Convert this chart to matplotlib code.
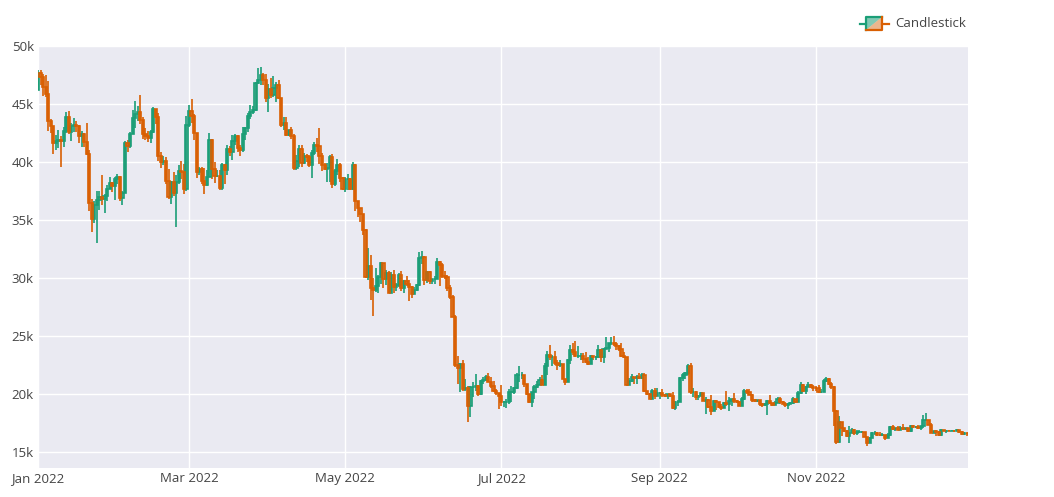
import numpy as np
import pandas as pd
import matplotlib
matplotlib.use("Agg")
import matplotlib.pyplot as plt
import matplotlib.dates as mdates
from matplotlib.patches import Polygon
from matplotlib.lines import Line2D

# daily BTC candles 2022, values in thousands of USD
first_open = 46.2
jan_close = [47.69,47.35,46.46,45.9,43.5,43.1,41.6,41.8,41.9,41.8,42.7,43.9,42.6,43.1,43.2,43.1,42.25,42.4,41.7,40.7,36.5,35.1,36.3,36.7,36.96,36.85,37.1,37.7,38.2,37.9,38.5]
jan_high = [47.9,47.9,47.6,47.5,47.0,43.7,43.1,42.3,42.8,42.2,43.0,44.3,44.4,43.4,43.8,43.5,43.2,42.7,42.5,43.4,41.0,36.8,36.6,37.5,37.5,38.9,37.2,38.0,38.7,38.3,38.7]
jan_low = [46.2,46.6,45.7,45.6,42.7,42.5,40.7,41.0,41.2,39.6,41.3,42.5,42.4,41.8,42.6,42.6,41.6,41.3,41.3,40.6,35.8,34.0,34.7,33.0,35.9,36.3,35.6,36.6,37.7,37.4,36.7]
feb_close = [38.7,36.9,37.3,41.6,41.4,42.4,43.8,44.1,44.3,43.6,42.4,42.2,42.1,42.6,44.6,43.9,40.5,40.0,40.1,38.4,37.0,38.3,37.3,38.3,39.2,39.1,37.7,43.2]
feb_high = [39.0,38.8,37.5,41.8,41.9,42.6,44.5,45.3,44.8,45.8,43.9,42.9,42.7,42.8,44.7,44.6,44.2,40.9,40.5,40.4,39.4,38.4,39.1,38.9,39.7,40.1,39.8,44.0]
feb_low = [38.1,36.6,36.3,37.3,40.9,41.2,42.4,42.9,43.5,43.3,42.0,41.9,41.7,41.6,42.5,43.3,40.1,39.5,39.7,38.1,36.8,36.4,37.1,34.4,38.1,38.5,37.2,37.5]
mar_close = [44.4,44.0,42.5,39.1,39.4,38.4,38.0,38.7,41.9,39.4,38.8,38.8,37.8,39.7,39.3,41.1,40.9,41.8,42.2,41.2,41.0,42.4,42.9,44.0,44.3,44.5,46.8,47.1,47.5,47.1,45.5]
mar_high = [44.9,45.4,44.1,42.5,39.6,39.6,39.5,39.3,42.5,42.0,40.0,39.3,39.3,39.9,39.8,41.5,41.4,42.3,42.4,42.3,41.5,43.0,43.0,44.2,44.9,44.8,46.9,48.1,48.2,47.7,47.6]
mar_low = [43.0,43.4,41.9,38.6,38.9,38.1,37.2,37.9,38.7,38.5,38.2,38.7,37.6,37.6,38.1,38.9,40.5,40.2,41.5,40.9,40.5,40.9,41.9,42.6,43.7,44.1,44.4,46.7,46.6,46.6,45.2]
apr_close = [46.3,45.8,46.4,46.6,45.5,43.2,43.4,42.3,42.8,42.2,39.5,40.1,41.1,39.9,40.5,40.4,39.7,40.8,41.5,41.4,40.5,39.7,39.4,39.5,40.4,38.1,39.2,39.7,38.6,37.7]
apr_high = [46.7,47.2,47.4,46.9,47.1,45.5,43.9,43.9,42.8,43.0,42.4,40.6,41.5,41.5,40.8,40.7,40.6,41.0,41.7,42.1,42.9,40.8,39.9,39.9,40.6,40.7,39.4,40.3,39.9,38.7]
apr_low = [44.3,45.5,45.6,45.2,45.4,43.0,42.8,42.2,42.2,42.0,39.3,39.3,39.6,39.6,39.8,40.0,39.6,38.6,40.6,40.9,39.8,39.2,39.3,38.3,38.3,37.8,37.9,38.9,38.3,37.6]
may_close = [38.5,38.5,37.7,39.7,36.6,36.0,35.5,34.1,30.1,31.0,29.1,29.0,29.3,30.1,31.3,29.9,30.4,28.7,30.3,29.2,29.4,30.3,29.1,29.7,29.5,29.2,28.6,29.0,29.4,31.7,31.8]
may_high = [38.7,39.0,38.6,40.0,39.8,36.6,36.0,35.5,34.2,32.6,32.0,30.0,30.9,30.3,31.4,31.3,30.7,30.6,30.5,30.7,29.6,30.4,30.6,29.8,30.2,29.8,29.3,29.2,29.5,32.2,32.3]
may_low = [37.4,37.6,37.6,37.6,35.8,35.3,34.8,33.7,30.0,29.8,28.1,26.7,28.8,28.7,29.5,29.1,29.4,28.7,28.7,28.7,28.9,29.2,28.9,28.7,29.3,28.0,28.3,28.6,28.9,29.3,31.2]
jun_close = [29.8,30.5,29.7,29.9,29.9,31.4,31.1,30.2,30.1,29.1,28.4,26.6,22.5,22.2,22.6,20.4,20.5,19.0,20.6,20.6,20.7,19.97,21.1,21.2,21.5,21.0,20.7,20.3,20.1,19.8]
jun_high = [31.9,30.6,30.6,29.9,30.2,31.7,31.5,31.3,30.6,30.3,29.4,28.5,26.8,23.3,22.7,22.9,21.3,20.7,20.7,21.0,21.7,20.8,21.2,21.5,21.6,21.8,21.5,21.1,20.4,20.1]
jun_low = [29.4,29.6,29.5,29.5,29.5,29.9,29.3,30.0,29.9,28.9,28.2,26.6,22.3,20.9,20.2,20.3,20.3,17.6,18.0,19.7,20.3,19.8,19.9,20.9,21.1,21.0,20.5,20.2,19.9,18.7]
jul_close = [19.3,19.3,19.3,20.2,20.2,20.5,21.6,21.6,21.6,20.9,19.97,19.3,20.2,20.6,20.8,21.2,20.8,22.4,23.4,23.2,23.2,22.7,22.5,22.6,21.3,21.0,22.9,23.8,23.6,23.3,23.3]
jul_high = [20.8,19.4,19.6,20.4,20.7,20.6,21.8,22.4,21.9,21.6,20.9,20.0,20.2,20.8,21.1,21.5,21.6,22.7,23.7,24.2,23.4,23.7,22.9,22.9,22.6,21.3,23.0,24.2,24.4,24.6,24.1]
jul_low = [19.0,18.9,18.8,19.1,19.3,20.0,20.4,21.0,21.3,20.6,19.9,19.2,18.9,19.6,20.5,20.8,20.8,20.8,21.6,22.9,22.4,22.5,22.1,22.3,21.3,20.8,21.0,22.6,23.4,23.2,23.1]
aug_close = [23.3,23.0,22.8,22.6,23.3,23.2,23.2,23.8,23.2,23.9,23.95,24.4,24.4,24.3,24.1,23.9,23.3,23.2,20.8,21.1,21.5,21.4,21.5,21.4,21.6,20.3,20.0,19.6,20.3,19.8,20.05]
aug_high = [23.5,23.5,23.6,23.2,23.4,23.3,23.3,24.2,23.9,24.0,24.9,24.4,24.9,25.0,24.5,24.2,24.4,23.6,23.2,21.4,21.7,21.5,21.6,21.8,21.8,21.8,20.2,20.1,20.4,20.5,20.5]
aug_low = [22.9,22.7,22.7,22.5,22.6,22.9,22.9,23.1,22.8,22.7,23.9,23.6,24.2,24.1,23.8,23.7,23.2,23.1,20.7,20.8,21.0,20.9,20.9,21.3,21.3,20.2,19.9,19.6,19.6,19.6,19.8]
sep_close = [20.1,19.95,19.8,20.0,19.8,18.8,19.3,19.3,21.4,21.6,21.8,22.4,20.2,20.2,19.7,19.8,20.1,19.4,19.5,18.9,18.5,19.4,19.3,18.9,18.8,19.2,19.1,19.4,19.6,19.4]
sep_high = [20.2,20.4,20.0,20.0,20.0,20.2,19.4,19.5,21.5,21.8,21.9,22.6,22.7,20.5,20.3,19.9,20.2,20.1,19.7,19.6,19.9,19.5,19.5,19.3,19.1,19.3,20.3,19.7,19.6,20.1]
sep_low = [19.6,19.7,19.7,19.6,19.7,18.7,18.6,19.0,19.3,21.1,21.3,21.6,20.0,19.7,19.5,19.5,19.8,19.4,18.3,18.8,18.2,18.7,18.6,18.8,18.6,18.8,19.0,18.5,19.0,19.2]
oct_close = [19.3,19.0,19.6,20.3,20.2,19.95,19.5,19.4,19.45,19.1,19.05,19.15,19.4,19.2,19.07,19.26,19.55,19.33,19.13,19.05,19.17,19.2,19.57,19.33,20.08,20.77,20.29,20.6,20.8,20.6,20.5]
oct_high = [19.5,19.4,19.7,20.4,20.4,20.4,20.0,19.6,19.5,19.5,19.2,19.2,19.5,19.9,19.2,19.4,19.7,19.7,19.4,19.3,19.2,19.3,19.7,19.6,20.3,21.0,20.9,20.7,21.0,20.9,20.8]
oct_low = [19.2,19.0,19.0,19.5,20.0,19.9,19.3,19.3,19.3,19.0,18.9,19.0,18.2,19.1,19.0,19.1,19.2,19.1,19.1,18.9,18.7,19.1,19.1,19.2,19.3,20.0,20.2,20.0,20.6,20.5,20.3]
nov_close = [20.48,20.15,20.2,21.15,21.3,20.9,20.6,18.5,15.9,17.6,17.05,16.8,16.35,16.6,16.9,16.65,16.7,16.7,16.7,16.3,15.8,16.2,16.6,16.6,16.5,16.45,16.45,16.2,16.45,17.17]
nov_high = [20.7,20.8,20.4,21.3,21.5,21.4,21.0,20.7,18.6,18.1,17.6,17.1,16.9,17.2,17.1,17.0,16.9,16.9,16.8,16.7,16.3,16.3,16.7,16.8,16.7,16.7,16.6,16.5,16.6,17.2]
nov_low = [20.3,20.1,20.1,20.2,21.0,20.8,20.4,17.2,15.7,15.8,16.4,16.7,16.3,15.8,16.6,16.5,16.5,16.6,16.6,16.3,15.5,15.9,16.2,16.5,16.4,16.4,16.4,16.0,16.2,16.4]
dec_close = [16.97,17.1,16.9,17.1,16.97,17.1,16.84,17.22,17.13,17.13,17.1,17.2,17.8,17.8,17.36,16.63,16.78,16.74,16.44,16.9,16.82,16.83,16.8,16.84,16.83,16.92,16.7,16.55,16.64,16.6,16.55]
dec_high = [17.3,17.1,17.2,17.2,17.4,17.1,17.1,17.3,17.3,17.2,17.3,17.2,18.2,18.4,17.8,17.5,16.8,16.9,16.8,17.0,16.9,16.9,16.9,16.9,16.9,17.0,16.9,16.8,16.7,16.6,16.6]
dec_low = [16.9,16.8,16.9,16.9,16.9,16.9,16.7,16.7,17.1,17.1,17.0,16.9,17.1,17.7,17.3,16.6,16.6,16.4,16.4,16.4,16.8,16.6,16.8,16.8,16.7,16.8,16.6,16.5,16.5,16.4,16.5]

y_ticks = [15, 20, 25, 30, 35, 40, 45, 50]
x_ticks = ["2022-01-01", "2022-03-01", "2022-05-01", "2022-07-01", "2022-09-01", "2022-11-01"]

INC = "#1b9e77"
DEC = "#d95f02"
TXT = "#444444"

closes = np.array(jan_close + feb_close + mar_close + apr_close + may_close + jun_close
                  + jul_close + aug_close + sep_close + oct_close + nov_close + dec_close)
highs = np.array(jan_high + feb_high + mar_high + apr_high + may_high + jun_high
                 + jul_high + aug_high + sep_high + oct_high + nov_high + dec_high)
lows = np.array(jan_low + feb_low + mar_low + apr_low + may_low + jun_low
                + jul_low + aug_low + sep_low + oct_low + nov_low + dec_low)
if not (len(closes) == len(highs) == len(lows) == 365):
    raise SystemExit("lengths: %d %d %d" % (len(closes), len(highs), len(lows)))
opens = np.concatenate([[first_open], closes[:-1]])
highs = np.maximum(highs, np.maximum(opens, closes))
lows = np.minimum(lows, np.minimum(opens, closes))

dates = pd.date_range("2022-01-01", periods=len(closes), freq="D")
x = mdates.date2num(dates)

plt.rcParams['font.family'] = ['Open Sans', 'DejaVu Sans']
fig = plt.figure(figsize=(10.54, 4.97), dpi=100)
W, H = 1054, 497
ax = fig.add_axes([38 / W, 1 - 468 / H, (968 - 38) / W, (468 - 46) / H])
ax.set_facecolor("#eaeaf2")
for s in ax.spines.values():
    s.set_visible(False)

up = closes >= opens
for mask, col in ((up, INC), (~up, DEC)):
    ax.vlines(x[mask], lows[mask], highs[mask], color=col, lw=1.2, zorder=3)
    body_lo = np.minimum(opens, closes)[mask]
    body_h = np.abs(closes - opens)[mask]
    ax.bar(x[mask], body_h, bottom=body_lo, width=0.85, color=col, alpha=0.5,
           edgecolor="none", zorder=3)
    ax.bar(x[mask], body_h, bottom=body_lo, width=0.85, fill=False,
           edgecolor=col, lw=1.2, zorder=4)

ax.set_ylim(13.62, 50)
ax.set_xlim(mdates.date2num(pd.Timestamp("2022-01-01")),
            mdates.date2num(pd.Timestamp("2022-12-30 10:00")))
ax.set_yticks(y_ticks)
ax.set_yticklabels(["%dk" % v for v in y_ticks])
ax.set_xticks(mdates.date2num(pd.to_datetime(x_ticks)))
ax.set_xticklabels([pd.Timestamp(d).strftime("%b %Y") for d in x_ticks])
ax.grid(True, color="white", lw=1.0, zorder=0)
ax.set_axisbelow(True)
ax.tick_params(length=0, labelsize=9.5, colors=TXT, pad=3)
ax.tick_params(axis="x", pad=3)

# legend drawn like plotly's candlestick icon
lx0, lx1, ly0, ly1 = 866 / W, 882 / W, 1 - 30 / H, 1 - 17 / H
ym = (ly0 + ly1) / 2
fig.add_artist(Line2D([860 / W, lx0], [ym, ym], color=INC, lw=1.6, transform=fig.transFigure))
fig.add_artist(Line2D([lx1, 889 / W], [ym, ym], color=DEC, lw=1.6, transform=fig.transFigure))
fig.add_artist(Polygon([[lx0, ly0], [lx0, ly1], [lx1, ly1]], closed=True, facecolor=INC,
                       alpha=0.55, edgecolor="none", transform=fig.transFigure))
fig.add_artist(Polygon([[lx0, ly0], [lx1, ly0], [lx1, ly1]], closed=True, facecolor=DEC,
                       alpha=0.45, edgecolor="none", transform=fig.transFigure))
fig.add_artist(Line2D([lx0, lx0, lx1], [ly0, ly1, ly1], color=INC, lw=1.6, transform=fig.transFigure))
fig.add_artist(Line2D([lx0, lx1, lx1], [ly0, ly0, ly1], color=DEC, lw=1.6, transform=fig.transFigure))
fig.text(895 / W, ym, "Candlestick", color=TXT, fontsize=9.5, va="center", ha="left")

fig.savefig("out.png", dpi=100)
